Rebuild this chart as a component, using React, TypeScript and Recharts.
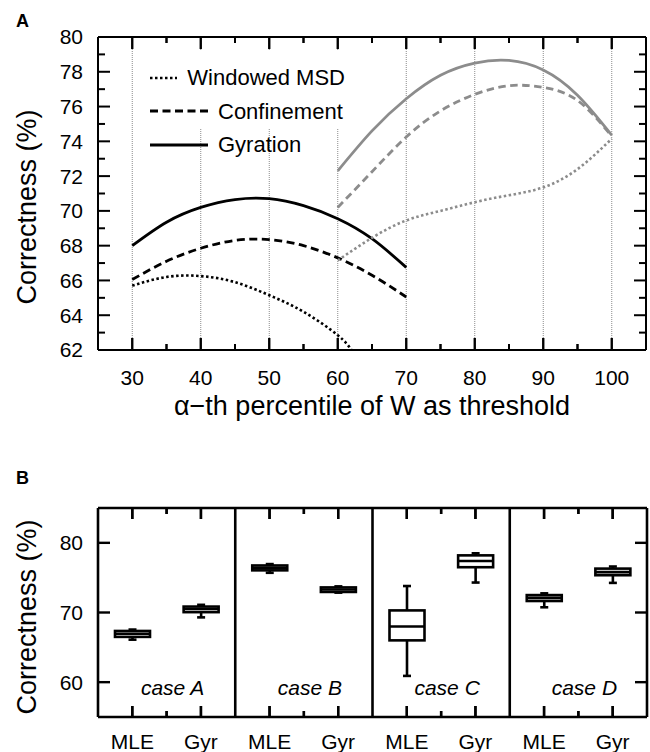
import {
  Bar,
  ComposedChart,
  Legend,
  Line,
  LineChart,
  ReferenceLine,
  XAxis,
  YAxis,
} from "recharts";

const FONT = '"Liberation Sans", Arial, Helvetica, sans-serif';
const GREY = "#8c8c8c";

// ---- panel A: correctness vs alpha-th percentile ----
const alphaLow = [30, 35, 40, 45, 50, 55, 60, 65, 70];
const alphaMsdLow = [30, 35, 40, 45, 50, 55, 60, 62];
const alphaHigh = [60, 65, 70, 75, 80, 85, 90, 95, 100];

const msdLow = [65.7, 66.2, 66.25, 65.9, 65.15, 64.2, 62.85, 62.0];
const confLow = [66.05, 67.1, 67.85, 68.3, 68.35, 68.0, 67.3, 66.3, 65.05];
const gyrLow = [68.0, 69.35, 70.2, 70.65, 70.7, 70.3, 69.55, 68.4, 66.75];

const msdHigh = [67.15, 68.45, 69.45, 70.0, 70.5, 70.9, 71.35, 72.4, 74.15];
const confHigh = [70.2, 72.25, 74.25, 75.75, 76.7, 77.2, 77.1, 76.35, 74.3];
const gyrHigh = [72.3, 74.6, 76.45, 77.8, 78.5, 78.65, 78.1, 76.65, 74.35];

const alphaDomain = [25, 105];
const alphaTicks = [30, 35, 40, 45, 50, 55, 60, 65, 70, 75, 80, 85, 90, 95, 100];
const alphaGrid = [30, 40, 50, 60, 70, 80, 90, 100];
const correctDomainA = [62, 80];
const correctTicksA = [62, 63, 64, 65, 66, 67, 68, 69, 70, 71, 72, 73, 74, 75, 76, 77, 78, 79, 80];

// ---- panel B: box plots per case ----
const cases = ["case A", "case B", "case C", "case D"];
const methods = ["MLE", "Gyr"];
const whiskerLo = [66.1, 69.3, 75.7, 72.85, 60.9, 74.3, 70.75, 74.25];
const quart1 = [66.5, 70.05, 76.05, 72.95, 66.0, 76.5, 71.65, 75.35];
const medians = [66.95, 70.5, 76.4, 73.3, 68.0, 77.4, 72.1, 75.8];
const quart3 = [67.35, 70.85, 76.75, 73.6, 70.3, 78.2, 72.5, 76.3];
const whiskerHi = [67.55, 71.1, 76.95, 73.75, 73.8, 78.5, 72.75, 76.6];
const caseDomain = [0, 8];
const caseBounds = [0, 2, 4, 6, 8];
const caseTicks = [0.5, 1, 1.5, 2.5, 3, 3.5, 4.5, 5, 5.5, 6.5, 7, 7.5];
const correctDomainB = [55, 85];
const correctTicksB = [60, 70, 80];

const toPoints = (xs: number[], ys: number[]) => xs.map((x, i) => ({ x, y: ys[i] }));

const seriesA = [
  { name: "Windowed MSD", data: toPoints(alphaMsdLow, msdLow), color: "#000", dash: "2.5 2.5", width: 2.6 },
  { name: "Confinement", data: toPoints(alphaLow, confLow), color: "#000", dash: "8 4.5", width: 2.8 },
  { name: "Gyration", data: toPoints(alphaLow, gyrLow), color: "#000", dash: undefined, width: 2.8 },
  { name: "Windowed MSD (high)", data: toPoints(alphaHigh, msdHigh), color: GREY, dash: "2.5 2.5", width: 2.6 },
  { name: "Confinement (high)", data: toPoints(alphaHigh, confHigh), color: GREY, dash: "7.5 4.5", width: 2.8 },
  { name: "Gyration (high)", data: toPoints(alphaHigh, gyrHigh), color: GREY, dash: undefined, width: 2.8 },
];

const boxRows = cases.flatMap((_, i) =>
  methods.map((_, j) => {
    const k = i * 2 + j;
    return {
      pos: k + 0.5,
      range: [quart1[k], quart3[k]],
      lo: whiskerLo[k],
      q1: quart1[k],
      med: medians[k],
      q3: quart3[k],
      hi: whiskerHi[k],
    };
  })
);

// tick positions placed on the four frame edges (drawn as invisible lines with tick-mark dots)
const edgeA = {
  bottom: alphaTicks.map((v) => ({ x: v, y: correctDomainA[0] })),
  top: alphaTicks.map((v) => ({ x: v, y: correctDomainA[1] })),
  left: correctTicksA.map((v) => ({ x: alphaDomain[0], y: v })),
  right: correctTicksA.map((v) => ({ x: alphaDomain[1], y: v })),
};
const edgeB = {
  bottom: caseTicks.map((v) => ({ pos: v, y: correctDomainB[0] })),
  top: caseTicks.map((v) => ({ pos: v, y: correctDomainB[1] })),
  left: correctTicksB.map((v) => ({ pos: caseDomain[0], y: v })),
  right: correctTicksB.map((v) => ({ pos: caseDomain[1], y: v })),
};

// plot edges (chart-local px)
const A = { top: 37, bottom: 350, left: 98, right: 646 };
const B = { top: 68, bottom: 277, left: 98, right: 647 };

// x tick: inward marks on bottom and top edge + label under the plot
function makeXTick(box: typeof A, lenOf: (v: number) => number, labelOf: (v: number) => string | null, gap: number, sw: number) {
  return (p: any) => {
    const v = p.payload.value;
    const len = lenOf(v);
    const label = labelOf(v);
    return (
      <g>
        <line x1={p.x} x2={p.x} y1={box.bottom} y2={box.bottom - len} stroke="#000" strokeWidth={sw} />
        <line x1={p.x} x2={p.x} y1={box.top} y2={box.top + len} stroke="#000" strokeWidth={sw} />
        <text x={p.x} y={box.bottom + gap} dy="0.36em" textAnchor="middle" fontSize={21} fontFamily={FONT}>
          {label ?? ""}
        </text>
      </g>
    );
  };
}

// a tick mark drawn from a dot position towards (dx, dy)
const markDot = (dx: number, dy: number, lenOf: (pl: any) => number, sw: number) => (p: any) => {
  const len = lenOf(p.payload);
  return (
    <line
      key={`m${p.index}`}
      x1={p.cx}
      y1={p.cy}
      x2={p.cx + dx * len}
      y2={p.cy + dy * len}
      stroke="#000"
      strokeWidth={sw}
    />
  );
};

// case name written near the bottom of a vertical reference line
const caseText = (name: string) => (p: any) => (
  <text
    x={p.x1 + 6}
    y={Math.max(p.y1, p.y2) - 22}
    textAnchor="middle"
    fontSize={21}
    fontStyle="italic"
    fontFamily={FONT}
    fill="#000"
  >
    {name}
  </text>
);

function LegendBox() {
  return (
    <div style={{ paddingTop: 11, fontFamily: FONT, fontSize: 22, color: "#000" }}>
      {seriesA
        .filter((s) => s.color === "#000")
        .map((s) => (
          <div key={s.name} style={{ display: "flex", alignItems: "center", height: 33.5 }}>
            <svg width={58} height={10} style={{ marginLeft: 10, marginRight: 10 }}>
              <line x1={0} x2={58} y1={5} y2={5} stroke="#000" strokeWidth={s.width} strokeDasharray={s.dash} />
            </svg>
            <span style={{ lineHeight: "33.5px", whiteSpace: "nowrap" }}>{s.name}</span>
          </div>
        ))}
    </div>
  );
}

function BoxShape(p: any) {
  const { x, y, width, height, payload } = p;
  const top = Math.min(y, y + height);
  const h = Math.abs(height);
  const ppu = h / (payload.q3 - payload.q1);
  const py = (v: number) => top + (payload.q3 - v) * ppu;
  const cx = x + width / 2;
  const cap = 4;
  return (
    <g stroke="#000" strokeWidth={2.6} fill="none">
      <line x1={cx} x2={cx} y1={py(payload.hi)} y2={top} />
      <line x1={cx} x2={cx} y1={top + h} y2={py(payload.lo)} />
      <line x1={cx - cap} x2={cx + cap} y1={py(payload.hi)} y2={py(payload.hi)} />
      <line x1={cx - cap} x2={cx + cap} y1={py(payload.lo)} y2={py(payload.lo)} />
      <rect x={x} y={top} width={width} height={h} fill="#fff" />
      <line x1={x} x2={x + width} y1={py(payload.med)} y2={py(payload.med)} />
    </g>
  );
}

const textBase = { position: "absolute" as const, fontFamily: FONT, color: "#000", whiteSpace: "nowrap" as const, lineHeight: 1 };

function Title({ x, y, size, rotate, children }: { x: number; y: number; size: number; rotate?: boolean; children: string }) {
  return (
    <div
      style={{
        ...textBase,
        left: x,
        top: y,
        fontSize: size,
        transform: `translate(-50%, -50%)${rotate ? " rotate(-90deg)" : ""}`,
      }}
    >
      {children}
    </div>
  );
}

const yTickStyle = { fontSize: 21, fill: "#000", fontFamily: FONT };

const lenAx = (pl: any) => (pl.x % 10 === 0 ? 12 : 6);
const lenAy = (pl: any) => (pl.y % 2 === 0 ? 12 : 7);
const lenBx = (pl: any) => (Number.isInteger(pl.pos) ? 6 : 11);
const lenBy = () => 12;

function EdgeLine({ data, xKey, dot }: { data: any[]; xKey: string; dot: (p: any) => any }) {
  return null;
}

export default function App() {
  const edgeLinesA = [
    { id: "b", data: edgeA.bottom, dot: markDot(0, -1, lenAx, 2) },
    { id: "t", data: edgeA.top, dot: markDot(0, 1, lenAx, 2) },
    { id: "l", data: edgeA.left, dot: markDot(1, 0, lenAy, 2) },
    { id: "r", data: edgeA.right, dot: markDot(-1, 0, lenAy, 2) },
  ];
  const edgeLinesB = [
    { id: "b", data: edgeB.bottom, dot: markDot(0, -1, lenBx, 2.4) },
    { id: "t", data: edgeB.top, dot: markDot(0, 1, lenBx, 2.4) },
    { id: "l", data: edgeB.left, dot: markDot(1, 0, lenBy, 2.4) },
    { id: "r", data: edgeB.right, dot: markDot(-1, 0, lenBy, 2.4) },
  ];

  return (
    <div style={{ position: "absolute", left: 0, top: 0, width: 650, height: 752, background: "#fff" }}>
      <div style={{ position: "absolute", left: 0, top: 0 }}>
        <LineChart width={650} height={440} margin={{ top: A.top, right: 650 - A.right, bottom: 0, left: 0 }}>
          {alphaGrid.map((v) => (
            <ReferenceLine key={`g${v}`} x={v} stroke="#8a8a8a" strokeWidth={1} strokeDasharray="1 1" />
          ))}
          {alphaDomain.map((v) => (
            <ReferenceLine key={`fx${v}`} x={v} stroke="#000" strokeWidth={2} />
          ))}
          {correctDomainA.map((v) => (
            <ReferenceLine key={`fy${v}`} y={v} stroke="#000" strokeWidth={2} />
          ))}
          {seriesA.map((s) => (
            <Line
              key={s.name}
              data={s.data}
              dataKey="y"
              name={s.name}
              type="natural"
              stroke={s.color}
              strokeWidth={s.width}
              strokeDasharray={s.dash}
              dot={false}
              activeDot={false}
              legendType="none"
              isAnimationActive={false}
            />
          ))}
          <XAxis
            type="number"
            dataKey="x"
            domain={alphaDomain}
            ticks={alphaTicks}
            interval={0}
            height={90}
            axisLine={false}
            tickLine={false}
            tick={makeXTick(A, (v) => (v % 10 === 0 ? 12 : 6), (v) => (v % 10 === 0 ? String(v) : null), 27, 2)}
          />
          <YAxis
            type="number"
            domain={correctDomainA}
            ticks={correctTicksA}
            interval={0}
            width={A.left}
            axisLine={false}
            tickLine={false}
            tickSize={0}
            tickMargin={15}
            tick={yTickStyle}
            tickFormatter={(v: number) => (v % 2 === 0 ? String(v) : "")}
          />
          <Legend
            layout="vertical"
            align="center"
            verticalAlign="middle"
            content={() => <LegendBox />}
            wrapperStyle={{ top: 50, left: 140, width: 205, height: 78, background: "#fff", margin: 0, padding: 0 }}
          />
        </LineChart>
      </div>

      {/* tick marks of panel A, same plot area, transparent overlay */}
      <div style={{ position: "absolute", left: 0, top: 0 }}>
        <LineChart width={650} height={440} margin={{ top: A.top, right: 650 - A.right, bottom: 0, left: 0 }}>
          {edgeLinesA.map((e) => (
            <Line
              key={e.id}
              data={e.data}
              dataKey="y"
              stroke="none"
              fill="none"
              dot={e.dot}
              activeDot={false}
              legendType="none"
              isAnimationActive={false}
            />
          ))}
          <XAxis type="number" dataKey="x" domain={alphaDomain} ticks={alphaTicks} interval={0} height={90}
            axisLine={false} tickLine={false} tick={false} />
          <YAxis type="number" domain={correctDomainA} ticks={correctTicksA} interval={0} width={A.left}
            axisLine={false} tickLine={false} tick={false} />
        </LineChart>
      </div>

      <div style={{ position: "absolute", left: 0, top: 440 }}>
        <ComposedChart width={650} height={312} data={boxRows} margin={{ top: B.top, right: 650 - B.right, bottom: 0, left: 0 }}>
          {cases.map((c, i) => (
            <ReferenceLine key={`c${c}`} x={i * 2 + 1} shape={caseText(c)} />
          ))}
          {caseBounds.map((v) => (
            <ReferenceLine key={`fx${v}`} x={v} stroke="#000" strokeWidth={2.6} />
          ))}
          {correctDomainB.map((v) => (
            <ReferenceLine key={`fy${v}`} y={v} stroke="#000" strokeWidth={2.6} />
          ))}
          <Bar dataKey="range" barSize={35} shape={BoxShape} isAnimationActive={false} />
          <XAxis
            type="number"
            dataKey="pos"
            domain={caseDomain}
            ticks={caseTicks}
            interval={0}
            height={312 - B.bottom}
            axisLine={false}
            tickLine={false}
            tick={makeXTick(
              B,
              (v) => (Number.isInteger(v) ? 6 : 11),
              (v) => (Number.isInteger(v) ? null : methods[Math.floor(v) % 2]),
              24,
              2.4
            )}
          />
          <YAxis
            type="number"
            domain={correctDomainB}
            ticks={correctTicksB}
            interval={0}
            width={B.left}
            axisLine={false}
            tickLine={false}
            tickSize={0}
            tickMargin={15}
            tick={yTickStyle}
          />
        </ComposedChart>
      </div>

      {/* tick marks of panel B, same plot area, transparent overlay */}
      <div style={{ position: "absolute", left: 0, top: 440 }}>
        <LineChart width={650} height={312} margin={{ top: B.top, right: 650 - B.right, bottom: 0, left: 0 }}>
          {edgeLinesB.map((e) => (
            <Line
              key={e.id}
              data={e.data}
              dataKey="y"
              stroke="none"
              fill="none"
              dot={e.dot}
              activeDot={false}
              legendType="none"
              isAnimationActive={false}
            />
          ))}
          <XAxis type="number" dataKey="pos" domain={caseDomain} ticks={caseTicks} interval={0} height={312 - B.bottom}
            axisLine={false} tickLine={false} tick={false} />
          <YAxis type="number" domain={correctDomainB} ticks={correctTicksB} interval={0} width={B.left}
            axisLine={false} tickLine={false} tick={false} />
        </LineChart>
      </div>

      <div style={{ ...textBase, left: 16, top: 12, fontSize: 18, fontWeight: "bold" }}>A</div>
      <div style={{ ...textBase, left: 16, top: 469, fontSize: 18, fontWeight: "bold" }}>B</div>
      <Title x={27} y={207} size={27} rotate>Correctness (%)</Title>
      <Title x={372} y={406} size={27}>α−th percentile of W as threshold</Title>
      <Title x={27} y={617} size={27} rotate>Correctness (%)</Title>
    </div>
  );
}
